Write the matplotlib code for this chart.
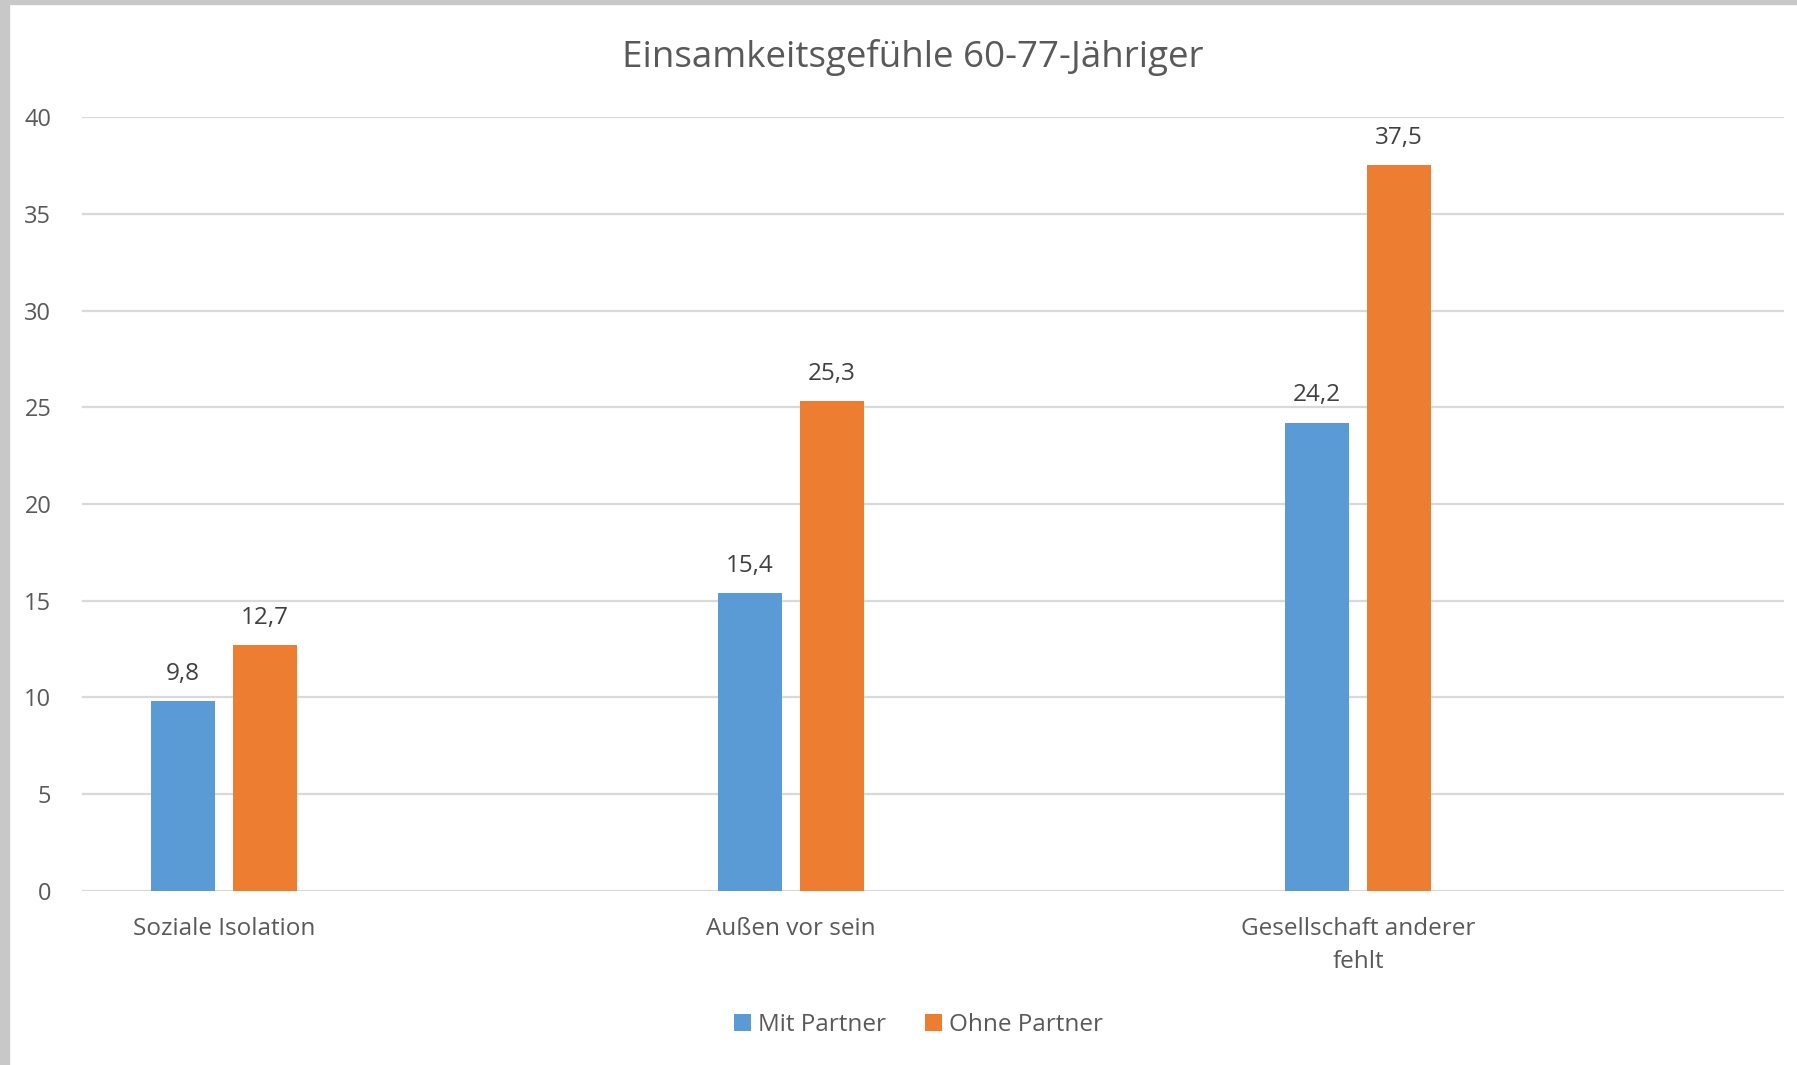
import matplotlib
matplotlib.use("Agg")
import matplotlib.pyplot as plt
from matplotlib.patches import Rectangle
import numpy as np

# --- data ---
categories = ["Soziale Isolation", "Außen vor sein", "Gesellschaft anderer\nfehlt"]
mit_partner = [9.8, 15.4, 24.2]
ohne_partner = [12.7, 25.3, 37.5]
series_names = ["Mit Partner", "Ohne Partner"]
y_ticks = [0, 5, 10, 15, 20, 25, 30, 35, 40]

BLUE = "#5B9BD5"
ORANGE = "#ED7D31"
TEXT = "#595959"
GRID = "#D9D9D9"

plt.rcParams["font.family"] = ["Open Sans", "DejaVu Sans"]

fig = plt.figure(figsize=(17.97, 10.65), dpi=100)
ax = fig.add_axes([0.0456, 0.1634, 0.9472, 0.7267])

x = np.arange(len(categories))
w = 0.113
off = 0.0723
b1 = ax.bar(x - off, mit_partner, w, color=BLUE, label=series_names[0], zorder=3)
b2 = ax.bar(x + off, ohne_partner, w, color=ORANGE, label=series_names[1], zorder=3)

fmt = lambda v: f"{v:.1f}".replace(".", ",")
for bars, vals in ((b1, mit_partner), (b2, ohne_partner)):
    ax.bar_label(bars, labels=[fmt(v) for v in vals], padding=11,
                 fontsize=17.5, color="#404040")

ax.set_xlim(-0.2504, 2.751)
ax.set_ylim(0, 40)
ax.set_yticks(y_ticks)
ax.set_xticks(x)
ax.set_xticklabels(categories, fontsize=17.5, color=TEXT, linespacing=1.5)
ax.tick_params(axis="y", labelsize=17, labelcolor=TEXT, length=0, pad=22)
ax.tick_params(axis="x", length=0, pad=19)
for lab in ax.get_yticklabels():
    lab.set_horizontalalignment("right")

ax.grid(axis="y", color=GRID, lw=1.6, zorder=0)
for s in ax.spines.values():
    s.set_visible(False)

fig.text(0.508, 0.946, "Einsamkeitsgefühle 60-77-Jähriger", ha="center", va="center",
         fontsize=26.5, color=TEXT)

leg = fig.legend(handles=[b1, b2], labels=series_names, loc="center",
                 bbox_to_anchor=(0.511, 0.038), ncol=2, frameon=False,
                 fontsize=17.5, handlelength=0.7, handleheight=0.7,
                 handletextpad=0.3, columnspacing=1.6)
for t in leg.get_texts():
    t.set_color(TEXT)

# grey frame strips at the left and top edge of the screenshot
fig.patches.append(Rectangle((0, 0), 9 / 1797, 1, transform=fig.transFigure,
                             color="#C8C8C8", zorder=10))
fig.patches.append(Rectangle((0, 1 - 4 / 1065), 1, 4 / 1065, transform=fig.transFigure,
                             color="#C8C8C8", zorder=10))

fig.savefig("out.png", dpi=100)
